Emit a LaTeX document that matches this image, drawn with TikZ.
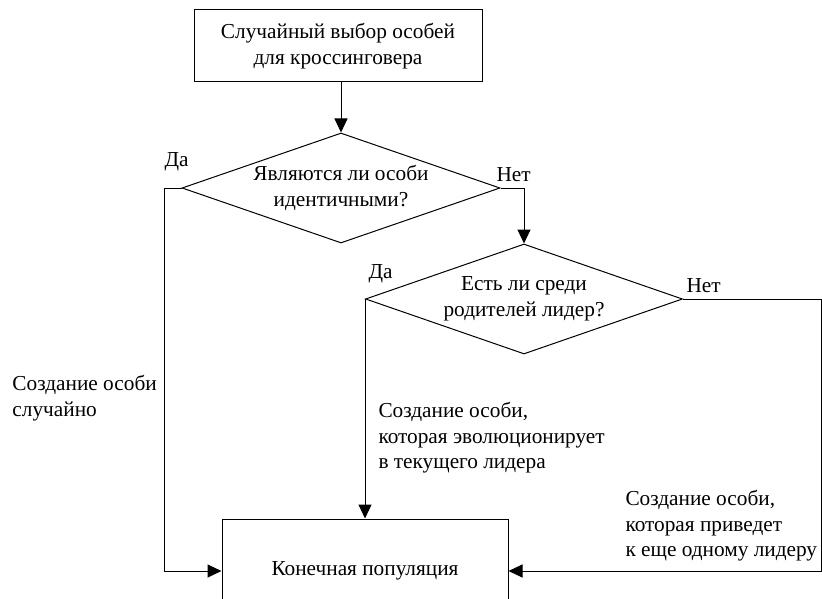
\documentclass[tikz,border=0pt]{standalone}
\usepackage{fontspec}
\setmainfont{Liberation Serif}
\usetikzlibrary{shapes.geometric,arrows.meta}
\begin{document}
\begin{tikzpicture}[x=1pt,y=-1pt, font=\fontsize{21.3}{25.5}\selectfont,
  every node/.style={line width=1pt},
  box/.style={draw, align=center, inner sep=0pt},
  dec/.style={draw, diamond, aspect=2.9, inner sep=0pt, align=center},
  arr/.style={line width=1pt, -{Triangle[length=14pt,width=13pt]}},
  lbl/.style={align=left, anchor=north west, inner sep=0pt},
  yn/.style={anchor=base west, inner sep=0pt}]
\useasboundingbox (0,0) rectangle (822,599);
\clip (0,0) rectangle (822,599);
\node[box, minimum width=288pt, minimum height=72pt] (start) at (338,46) {Случайный выбор особей\\для кроссинговера};
\node[dec, minimum width=318pt, minimum height=110pt] (d1) at (341,188) {Являются ли особи\\идентичными?};
\node[dec, minimum width=317pt, minimum height=110pt] (d2) at (524,299) {Есть ли среди\\родителей лидер?};
\node[box, minimum width=286pt, minimum height=104pt] (end) at (365,571) {Конечная популяция};
\coordinate (lx) at (164,188);
\coordinate (rx) at (821,299);
\draw[arr] (start.south -| d1.north) -- (d1.north);
\draw[arr] (d1.east) -| (d2.north);
\draw[arr] (d1.west) -- (lx) |- (end.west);
\draw[arr] (d2.west) -- (d2.west |- end.north);
\draw[arr] (d2.east) -- (rx) |- (end.east);
\node[yn] (da1) at (164,167) {Да};
\node[yn] (net1) at (496,182) {Нет};
\node[yn] (da2) at (368,278) {Да};
\node[yn] (net2) at (686,292) {Нет};
\node[lbl] (t1) at (12,375) {Создание особи\\случайно};
\node[lbl] (t2) at (378,402) {Создание особи,\\которая эволюционирует\\в текущего лидера};
\node[lbl] (t3) at (625,490) {Создание особи,\\которая приведет\\к еще одному лидеру};
\end{tikzpicture}
\end{document}
